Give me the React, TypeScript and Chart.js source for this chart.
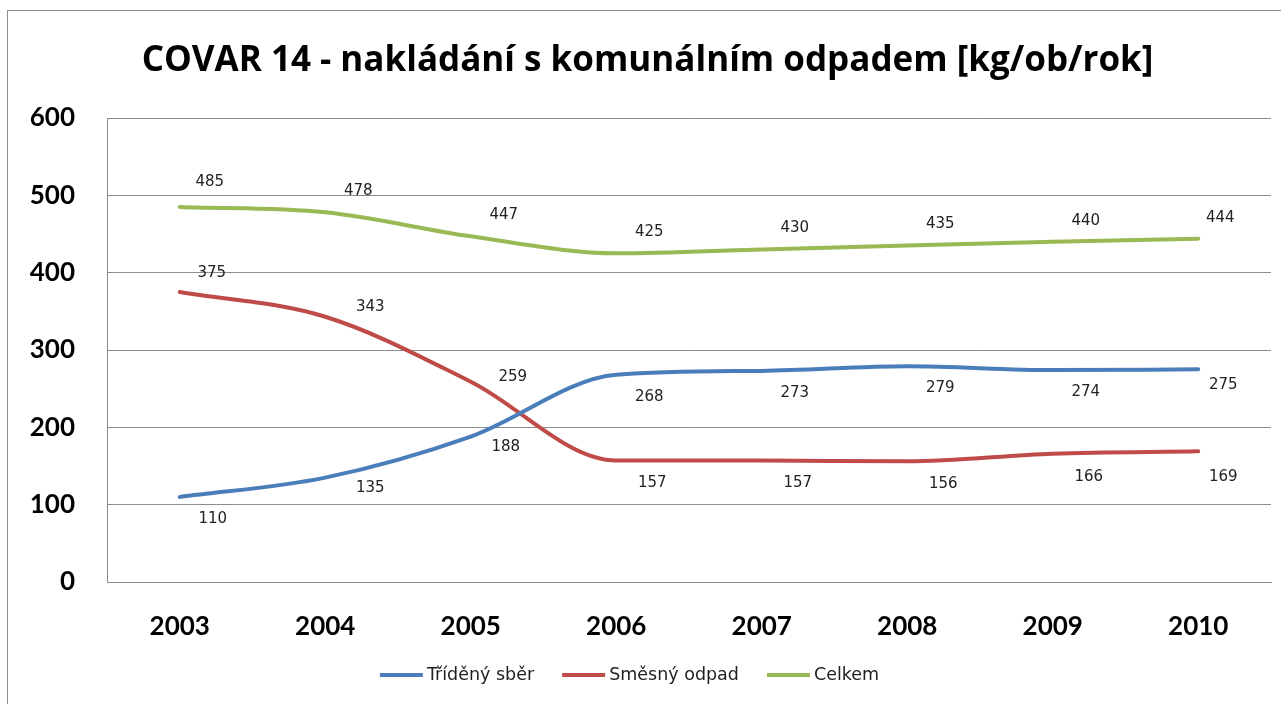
import React, { useEffect, useRef } from "react";
import { Chart, registerables } from "chart.js";

Chart.register(...registerables);

const years = ["2003", "2004", "2005", "2006", "2007", "2008", "2009", "2010"];
const trideny = [110, 135, 188, 268, 273, 279, 274, 275];
const smesny = [375, 343, 259, 157, 157, 156, 166, 169];
const celkem = [485, 478, 447, 425, 430, 435, 440, 444];
const yTicks = [0, 100, 200, 300, 400, 500, 600];

const labelOffsets: Record<number, { dx: number; dy: number; over?: Record<number, { dx: number; dy: number }> }> = {
  0: { dx: 33, dy: 22, over: { 1: { dx: 45, dy: 11 }, 2: { dx: 35, dy: 10 }, 7: { dx: 25, dy: 16 } } },
  1: { dx: 36, dy: 23, over: { 0: { dx: 32, dy: -19 }, 1: { dx: 45, dy: -10 }, 2: { dx: 42, dy: -5 }, 7: { dx: 25, dy: 26 } } },
  2: { dx: 33, dy: -21, over: { 0: { dx: 30, dy: -25 }, 7: { dx: 22, dy: -21 } } },
};

const dataLabels = {
  id: "dataLabels",
  afterDatasetsDraw(chart: any) {
    const ctx = chart.ctx;
    ctx.save();
    ctx.font = "15px 'DejaVu Sans'";
    ctx.fillStyle = "#222";
    ctx.textAlign = "center";
    ctx.textBaseline = "middle";
    chart.data.datasets.forEach((ds: any, di: number) => {
      const meta = chart.getDatasetMeta(di);
      const cfg = labelOffsets[di];
      meta.data.forEach((pt: any, i: number) => {
        const o = (cfg.over && cfg.over[i]) || cfg;
        ctx.fillText(String(ds.data[i]), pt.x + o.dx, pt.y + o.dy);
      });
    });
    ctx.restore();
  },
};

const lineLegend = {
  id: "lineLegend",
  afterDraw(chart: any) {
    const ctx = chart.ctx;
    const lineW = 43;
    const gapText = 4;
    const gapItem = 28;
    ctx.save();
    ctx.font = "17.5px 'DejaVu Sans'";
    ctx.textBaseline = "middle";
    ctx.textAlign = "left";
    const items = chart.data.datasets.map((ds: any) => ({
      label: ds.label,
      color: ds.borderColor,
      w: ctx.measureText(ds.label).width,
    }));
    const total = items.reduce((a: number, it: any) => a + lineW + gapText + it.w, 0) + gapItem * (items.length - 1);
    let x = chart.width / 2 - 15 - total / 2;
    const y = 664;
    items.forEach((it: any) => {
      ctx.strokeStyle = it.color;
      ctx.lineWidth = 4;
      ctx.beginPath();
      ctx.moveTo(x, y);
      ctx.lineTo(x + lineW, y);
      ctx.stroke();
      x += lineW + gapText;
      ctx.fillStyle = "#222";
      ctx.fillText(it.label, x, y);
      x += it.w + gapItem;
    });
    ctx.restore();
  },
};

export default function App() {
  const ref = useRef<HTMLCanvasElement>(null);
  useEffect(() => {
    if (!ref.current) return;
    const chart = new Chart(ref.current, {
      type: "line",
      data: {
        labels: years,
        datasets: [
          { label: "Tříděný sběr", data: trideny, borderColor: "#4A7EBB", backgroundColor: "#4A7EBB", borderWidth: 4 },
          { label: "Směsný odpad", data: smesny, borderColor: "#BE4B48", backgroundColor: "#BE4B48", borderWidth: 4 },
          { label: "Celkem", data: celkem, borderColor: "#98B954", backgroundColor: "#98B954", borderWidth: 4 },
        ],
      },
      options: {
        animation: false,
        responsive: false,
        events: [],
        elements: {
          line: { borderWidth: 4, cubicInterpolationMode: "monotone", borderCapStyle: "round" },
          point: { radius: 0 },
        },
        layout: { padding: { top: 29, right: 10, left: 16, bottom: 0 } },
        plugins: {
          title: {
            display: true,
            text: "COVAR 14 - nakládání s komunálním odpadem [kg/ob/rok]",
            color: "#000",
            font: { family: "Open Sans", size: 35, weight: "bold" },
            padding: { top: 0, bottom: 36 },
          },
          legend: { display: false },
          tooltip: { enabled: false },
        },
        scales: {
          x: {
            offset: true,
            afterFit: (s: any) => {
              s.height = 122;
            },
            grid: { display: false, drawTicks: false },
            border: { display: true, color: "#8c8c8c", width: 1 },
            ticks: { color: "#000", font: { family: "Lato", size: 26, weight: "bold" }, padding: 29 },
          },
          y: {
            min: 0,
            max: 600,
            afterBuildTicks: (s: any) => {
              s.ticks = yTicks.map((v) => ({ value: v }));
            },
            afterFit: (s: any) => {
              s.width = 83;
            },
            grid: { color: "#8c8c8c", drawTicks: false, lineWidth: 1 },
            border: { display: true, color: "#8c8c8c", width: 1 },
            ticks: { color: "#000", font: { family: "Lato", size: 26, weight: "bold" }, padding: 32 },
          },
        },
      },
      plugins: [dataLabels, lineLegend],
    });
    return () => chart.destroy();
  }, []);
  return (
    <div
      style={{
        position: "fixed",
        left: 7,
        top: 10,
        width: 1300,
        height: 720,
        border: "1px solid #8c8c8c",
        background: "#fff",
        overflow: "hidden",
      }}
    >
      <canvas ref={ref} width={1273} height={693} style={{ display: "block" }} />
    </div>
  );
}
